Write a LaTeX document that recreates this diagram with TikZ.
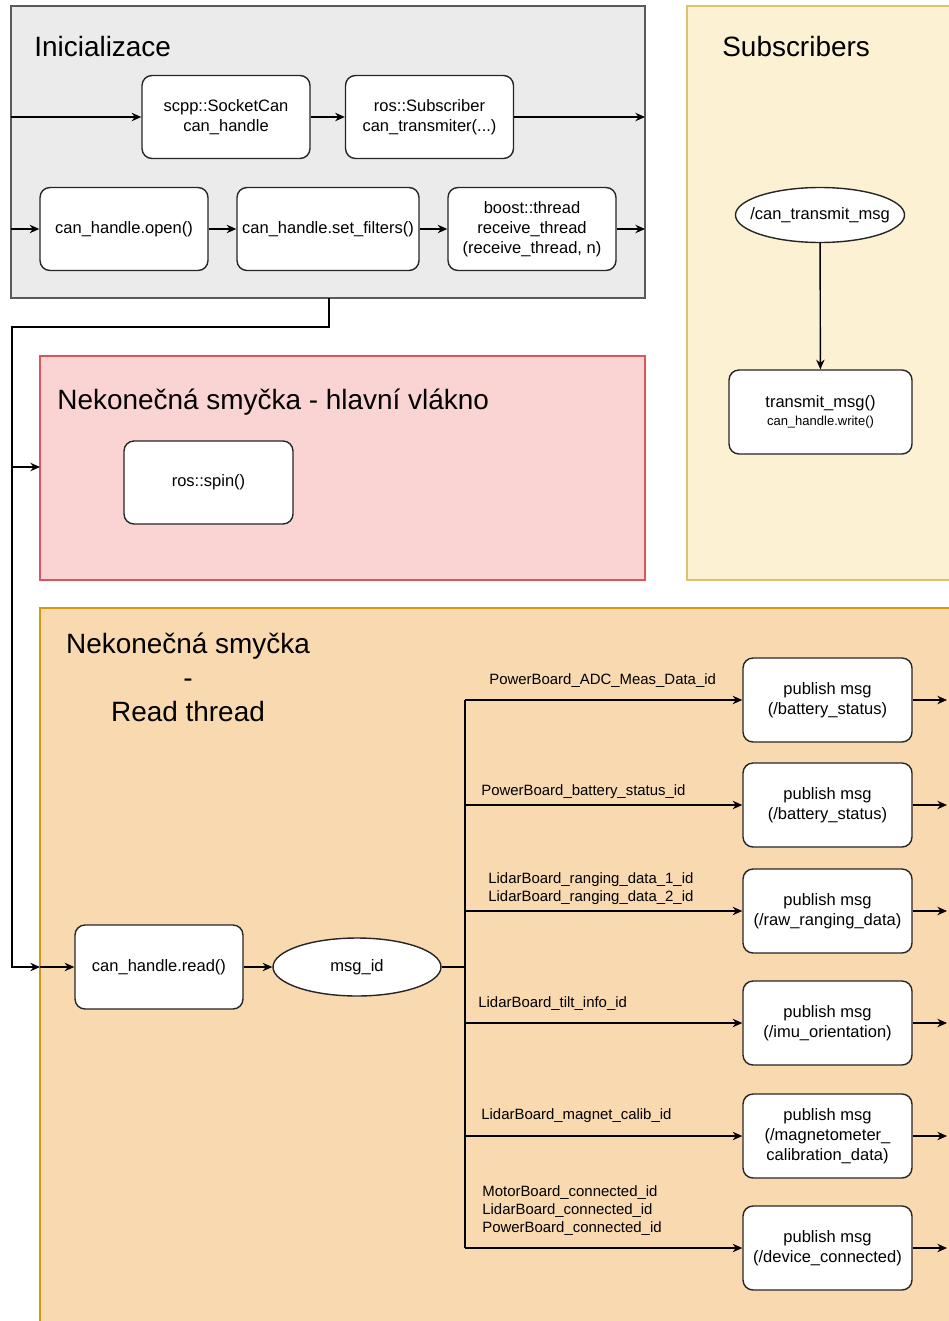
\documentclass[tikz,border=0pt]{standalone}
\usepackage{fontspec}
\setmainfont{Liberation Sans}
\usetikzlibrary{arrows.meta,positioning,shapes.geometric}

\definecolor{initfill}{HTML}{EBEBEB}
\definecolor{initline}{HTML}{5A5A5A}
\definecolor{mainfill}{HTML}{F9D4D2}
\definecolor{mainline}{HTML}{D9565A}
\definecolor{subfill}{HTML}{FCF1D3}
\definecolor{subline}{HTML}{DCC371}
\definecolor{readfill}{HTML}{F9D9B0}
\definecolor{readline}{HTML}{D8980E}

\begin{document}
\begin{tikzpicture}[x=0.02cm,y=-0.02cm,
	arr/.style={-{Stealth[length=5.5pt,width=4.8pt]},line width=0.8pt},
	box/.style={draw=black!85,fill=white,rounded corners=0.2cm,line width=0.8pt,minimum width=3.36cm,minimum height=1.66cm,align=center,inner sep=1pt,font=\fontsize{9.4}{11.3}\selectfont},
	topic/.style={ellipse,draw=black!85,fill=white,line width=0.8pt,inner sep=0pt,font=\fontsize{9.4}{11.3}\selectfont},
	title/.style={anchor=base west,inner sep=0pt,font=\fontsize{15.9}{19.3}\selectfont},
	lbl/.style={anchor=south west,inner sep=0pt,align=left,font=\fontsize{8.5}{10.4}\selectfont}]

	\useasboundingbox (0,0) rectangle (948,1321);

	% skupiny
	\draw[initline,fill=initfill,line width=0.6pt] (11,6) rectangle (645,298);
	\draw[subline,fill=subfill,line width=0.6pt] (687,6) rectangle (955,580);
	\draw[mainline,fill=mainfill,line width=0.6pt] (40,356) rectangle (645,580);
	\draw[readline,fill=readfill,line width=0.6pt] (40,608) rectangle (955,1330);

	\node[title] (tinit) at (34,57) {Inicializace};
	\node[title] (tsub) at (722,57) {Subscribers};
	\node[title] (tmain) at (57,409) {Nekonečná smyčka - hlavní vlákno};
	\node[title,anchor=north,align=center] (tread) at (188,633) {Nekonečná smyčka\\-\\Read thread};

	% inicializace
	\node[box] (sock) at (226,117) {scpp::SocketCan\\can\_handle};
	\node[box] (subscr) at (429.5,117) {ros::Subscriber\\can\_transmiter(...)};
	\node[box] (open) at (124,229) {can\_handle.open()};
	\node[box,minimum width=3.64cm] (filt) at (328,229) {can\_handle.set\_filters()};
	\node[box] (thr) at (532,229) {boost::thread\\receive\_thread\\(receive\_thread, n)};

	\coordinate (in1) at (11,117);
	\coordinate (out1) at (645,117);
	\coordinate (in2) at (11,229);
	\coordinate (out2) at (645,229);

	\draw[arr] (in1) -- (sock);
	\draw[arr] (sock) -- (subscr);
	\draw[arr] (subscr) -- (out1);
	\draw[arr] (in2) -- (open);
	\draw[arr] (open) -- (filt);
	\draw[arr] (filt) -- (thr);
	\draw[arr] (thr) -- (out2);

	% hlavni vlakno
	\node[box,minimum width=3.38cm] (spin) at (208.5,482.5) {ros::spin()};

	\coordinate (initout) at (329,298);
	\coordinate (mainin) at (40,467);
	\coordinate (readin) at (40,967);
	\coordinate (split) at (12,467);

	\draw[arr] (initout) |- (12,327) |- (readin);
	\draw[arr] (split) -- (mainin);

	% subscribers
	\node[topic,inner xsep=-0.2cm,minimum width=3.38cm,minimum height=1.1cm] (topic) at (820,215) {/can\_transmit\_msg};
	\node[box,minimum width=3.66cm,minimum height=1.68cm] (transmit) at (820.5,412) {transmit\_msg()\\[-1pt]{\fontsize{7.4}{8.5}\selectfont can\_handle.write()}};
	\draw[arr] (topic) -- (transmit);

	% read thread
	\node[box,minimum height=1.68cm] (readbox) at (159,967) {can\_handle.read()};
	\node[topic,minimum width=3.36cm,minimum height=1.16cm] (msgid) at (357,967) {msg\_id};
	\coordinate (bus) at (465,967);

	\draw[arr] (readin) -- (readbox);
	\draw[arr] (readbox) -- (msgid);
	\draw[line width=0.8pt] (msgid) -- (bus);
	\draw[line width=0.8pt] (465,700) -- (465,1248);

	\foreach \i/\y/\txt in {1/700/{(/battery\_status)},2/805/{(/battery\_status)},3/911/{(/raw\_ranging\_data)},4/1023/{(/imu\_orientation)},5/1136/{(/magnetometer\_\\calibration\_data)},6/1248/{(/device\_connected)}}
	{
		\node[box,minimum width=3.38cm,minimum height=1.68cm] (pub\i) at (827.5,\y) {publish msg\\\txt};
		\coordinate (br\i) at (465,\y);
		\coordinate (out\i) at (947,\y);
		\draw[arr] (br\i) -- (pub\i);
		\draw[arr] (pub\i) -- (out\i);
	}

	\node[lbl] (id1) at (489,688) {PowerBoard\_ADC\_Meas\_Data\_id};
	\node[lbl] (id2) at (481,799) {PowerBoard\_battery\_status\_id};
	\node[lbl] (id3) at (488,905) {LidarBoard\_ranging\_data\_1\_id\\LidarBoard\_ranging\_data\_2\_id};
	\node[lbl] (id4) at (478,1011) {LidarBoard\_tilt\_info\_id};
	\node[lbl] (id5) at (481,1123) {LidarBoard\_magnet\_calib\_id};
	\node[lbl] (id6) at (482,1236) {MotorBoard\_connected\_id\\LidarBoard\_connected\_id\\PowerBoard\_connected\_id};
\end{tikzpicture}
\end{document}
